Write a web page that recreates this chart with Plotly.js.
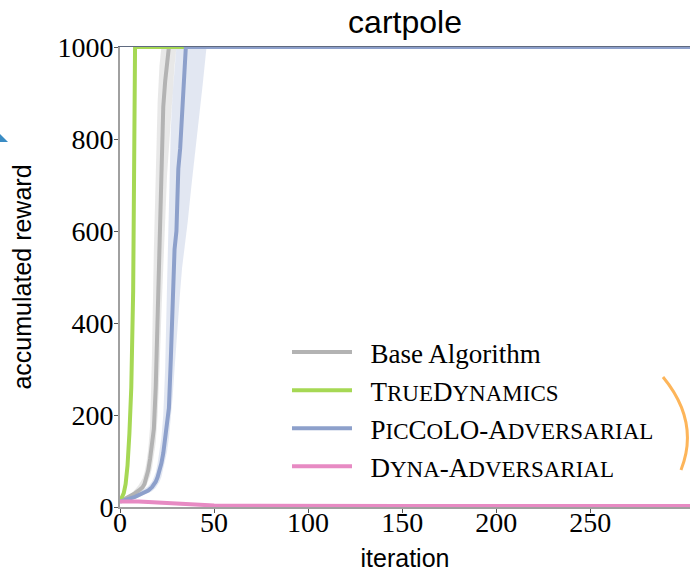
<!DOCTYPE html>
<html>
<head>
<meta charset="utf-8">
<script src="https://cdn.plot.ly/plotly-3.0.1.min.js"></script>
<style>html,body{margin:0;padding:0;background:#fff;}</style>
</head>
<body>
<div id="chart" style="width:690px;height:573px;"></div>
<script>
// ---- data ----
const seriesNames = ["Base Algorithm", "TrueDynamics", "PicCoLO-Adversarial", "Dyna-Adversarial"];

const baseX    = [0, 2, 4, 6, 8, 10, 12, 13, 14, 15, 16, 17, 18, 19, 20, 21, 22, 23, 24, 25, 26, 303];
const baseY    = [12, 16, 20, 25, 30, 36, 43, 50, 62, 80, 105, 135, 170, 260, 420, 620, 740, 870, 925, 970, 1000, 1000];
const baseUpX  = [0, 2, 4, 6, 8, 10, 12, 13, 14, 15, 16, 17, 18, 19, 20, 21, 22, 303];
const baseUpY  = [14, 19, 24, 30, 38, 48, 62, 75, 95, 125, 175, 330, 560, 720, 880, 960, 1000, 1000];
const baseLoX  = [0, 2, 4, 6, 8, 10, 12, 13, 14, 15, 16, 17, 18, 19, 20, 21, 22, 23, 24, 25, 26, 27, 28, 29, 30, 303];
const baseLoY  = [10, 13, 17, 21, 25, 30, 35, 40, 46, 55, 68, 85, 110, 140, 200, 300, 420, 530, 620, 720, 800, 860, 900, 960, 1000, 1000];

const trueX    = [0, 1, 2, 3, 4, 5, 6, 7, 8, 303];
const trueY    = [12, 20, 30, 50, 90, 160, 260, 470, 1000, 1000];

const picX     = [0, 4, 8, 12, 15, 17, 19, 20, 21, 22, 23, 24, 25, 26, 27, 28, 29, 30, 31, 32, 33, 34, 35, 303];
const picY     = [12, 16, 22, 30, 36, 43, 55, 65, 78, 95, 117, 150, 175, 215, 320, 420, 560, 600, 735, 780, 850, 920, 1000, 1000];
const picUpX   = [0, 4, 8, 12, 15, 17, 19, 20, 21, 22, 23, 24, 25, 26, 27, 28, 29, 30, 303];
const picUpY   = [14, 19, 26, 36, 45, 55, 75, 95, 120, 150, 200, 300, 480, 680, 820, 900, 960, 1000, 1000];
const picLoX   = [0, 4, 8, 12, 15, 17, 19, 20, 21, 22, 23, 24, 25, 26, 27, 28, 29, 30, 31, 32, 33, 34, 35, 36, 38, 40, 42, 44, 46, 303];
const picLoY   = [10, 13, 18, 25, 30, 34, 42, 48, 55, 65, 80, 100, 120, 150, 190, 240, 300, 360, 420, 470, 520, 560, 590, 620, 700, 780, 850, 920, 1000, 1000];

const dynaX    = [0, 5, 10, 15, 20, 25, 30, 35, 40, 45, 50, 60, 70, 80, 100, 150, 200, 250, 303];
const dynaY    = [12, 12.5, 12, 11, 10, 8.5, 7, 5.5, 4.5, 3.8, 3.2, 2.8, 2.5, 2.3, 2.2, 2.2, 2.2, 2.2, 2.2];
const dynaUpY  = [15, 15.5, 15, 14, 13, 11.5, 9.5, 8, 7, 6, 5, 4.5, 4, 3.8, 3.6, 3.6, 3.6, 3.6, 3.6];
const dynaLoY  = [9, 9.5, 9, 8, 7, 5.5, 4.5, 3.5, 2.5, 2, 1.6, 1.3, 1.1, 1, 0.9, 0.9, 0.9, 0.9, 0.9];

const xTicks = [0, 50, 100, 150, 200, 250];
const yTicks = [0, 200, 400, 600, 800, 1000];

// ---- styling ----
const colors = {base: "#b3b3b3", truth: "#a6d854", pic: "#8da0cb", dyna: "#e78ac3"};
const serif = "Liberation Serif, Times New Roman, serif";
const sans = "Liberation Sans, Arial, sans-serif";
const sc = s => '<span style="font-size:23px">' + s + '</span>';
const pad = "\u00a0\u00a0";
const legendLabels = [
  pad + "Base Algorithm",
  pad + "T" + sc("RUE") + "D" + sc("YNAMICS"),
  pad + "P" + sc("IC") + "C" + sc("O") + "LO-A" + sc("DVERSARIAL"),
  pad + "D" + sc("YNA") + "-A" + sc("DVERSARIAL")
];

function bandPoly(xu, yu, xl, yl) {
  return {x: xu.concat(xl.slice().reverse()), y: yu.concat(yl.slice().reverse())};
}
const baseBand = bandPoly(baseUpX, baseUpY, baseLoX, baseLoY);
const picBand = bandPoly(picUpX, picUpY, picLoX, picLoY);
const dynaBand = bandPoly(dynaX, dynaUpY, dynaX, dynaLoY);

const traces = [
  {x: baseBand.x, y: baseBand.y, fill: "toself", fillcolor: "rgba(179,179,179,0.3)", line: {width: 0}, mode: "lines", showlegend: false, hoverinfo: "skip"},
  {x: picBand.x, y: picBand.y, fill: "toself", fillcolor: "rgba(141,160,203,0.25)", line: {width: 0}, mode: "lines", showlegend: false, hoverinfo: "skip"},
  {x: dynaBand.x, y: dynaBand.y, fill: "toself", fillcolor: "rgba(231,138,195,0.3)", line: {width: 0}, mode: "lines", showlegend: false, hoverinfo: "skip"},
  {x: baseX, y: baseY, mode: "lines", name: legendLabels[0], legendgroup: "a", line: {color: colors.base, width: 4}},
  {x: trueX, y: trueY, mode: "lines", name: legendLabels[1], legendgroup: "b", line: {color: colors.truth, width: 4}},
  {x: picX, y: picY, mode: "lines", name: legendLabels[2], legendgroup: "c", line: {color: colors.pic, width: 4}},
  {x: dynaX, y: dynaY, mode: "lines", name: legendLabels[3], legendgroup: "d", line: {color: colors.dyna, width: 4}},
  // invisible helpers so the extra (label / top-line) axes get drawn
  {x: [0], y: [0], xaxis: "x2", yaxis: "y", mode: "lines", showlegend: false, hoverinfo: "skip", line: {width: 0}},
  {x: [0], y: [0], xaxis: "x3", yaxis: "y", mode: "lines", showlegend: false, hoverinfo: "skip", line: {width: 0}},
  {x: [0], y: [0], xaxis: "x", yaxis: "y2", mode: "lines", showlegend: false, hoverinfo: "skip", line: {width: 0}}
];

const layout = {
  width: 690, height: 573,
  margin: {l: 120, r: 0, t: 47, b: 66, pad: 0},
  paper_bgcolor: "#fff", plot_bgcolor: "#fff",
  title: {text: "cartpole", font: {family: sans, size: 32, color: "#000"}, x: 0.5, xref: "paper", y: 1 - 22/573, yref: "container", yanchor: "middle"},
  // main axes: spines + tick marks
  xaxis: {
    range: [0, 303], tickvals: xTicks, showticklabels: false,
    ticks: "outside", ticklen: 4, tickwidth: 1, tickcolor: "#555",
    showline: true, linecolor: "#a0a0a0", linewidth: 2,
    showgrid: false, zeroline: false
  },
  yaxis: {
    range: [0, 1000], tickvals: yTicks, showticklabels: false,
    ticks: "outside", ticklen: 4, tickwidth: 1, tickcolor: "#555",
    showline: true, linecolor: "#a0a0a0", linewidth: 2,
    showgrid: false, zeroline: false
  },
  // top spine
  xaxis2: {
    overlaying: "x", side: "top", range: [0, 303],
    showline: true, linecolor: "#5f6a80", linewidth: 1.5,
    showticklabels: false, ticks: "", showgrid: false, zeroline: false
  },
  // tick labels + titles sitting close to the spines
  xaxis3: {
    overlaying: "x", anchor: "free", position: 4 / 460, side: "bottom", range: [0, 303],
    tickvals: xTicks, ticktext: xTicks.map(String), ticks: "",
    showline: false, showgrid: false, zeroline: false,
    tickfont: {family: serif, size: 28, color: "#000"},
    title: {text: "iteration", font: {family: sans, size: 25, color: "#000"}, standoff: 12}
  },
  yaxis2: {
    overlaying: "y", anchor: "free", position: 0, side: "left", range: [0, 1000],
    tickvals: yTicks, ticktext: yTicks.map(String),
    ticks: "outside", ticklen: 1, tickcolor: "rgba(0,0,0,0)",
    showline: false, showgrid: false, zeroline: false,
    tickfont: {family: serif, size: 28, color: "#000"},
    title: {text: "accumulated reward", font: {family: sans, size: 25, color: "#000"}, standoff: 17}
  },
  showlegend: true,
  legend: {
    x: (287 - 120) / 570, xanchor: "left", y: (507 - 328) / 460, yanchor: "top",
    bgcolor: "rgba(0,0,0,0)", borderwidth: 0,
    font: {family: serif, size: 27, color: "#000"},
    itemwidth: 60, traceorder: "grouped", tracegroupgap: 0
  },
  shapes: [
    {type: "path", xref: "paper", yref: "paper",
     path: "M" + ((663-120)/570) + "," + ((507-377)/460) + " Q" + ((700-120)/570) + "," + ((507-422)/460) + " " + ((681-120)/570) + "," + ((507-470)/460),
     line: {color: "#fdb55a", width: 3}},
    {type: "path", xref: "paper", yref: "paper",
     path: "M" + ((0-120)/570) + "," + ((507-134)/460) + " L" + ((8-120)/570) + "," + ((507-142)/460) + " L" + ((0-120)/570) + "," + ((507-142)/460) + " Z",
     fillcolor: "#3a8cc4", line: {width: 0}}
  ]
};

Plotly.newPlot("chart", traces, layout, {displayModeBar: false, staticPlot: true});
</script>
</body>
</html>
